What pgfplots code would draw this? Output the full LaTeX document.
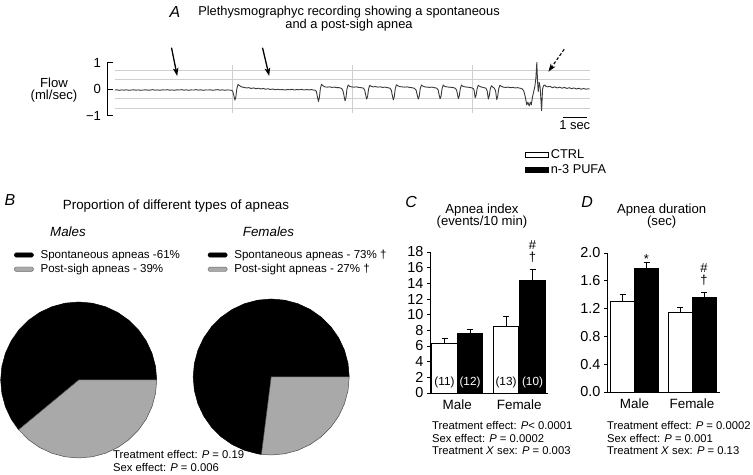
\documentclass[border=0pt]{standalone}
\usepackage{fontspec}
\setmainfont{Liberation Sans}
\usepackage{pgfplots}
\pgfplotsset{compat=1.18}
\usetikzlibrary{arrows.meta}
\definecolor{piegray}{HTML}{A9A9A9}
\definecolor{tracegray}{HTML}{3A3A3A}
\definecolor{gridgray}{HTML}{CFCFCF}
\newcommand{\fs}[2]{\fontsize{#1}{#2}\selectfont}
\pgfplotsset{
 baraxis/.style={scale only axis, anchor=south west, axis x line*=bottom, axis y line*=left,
   axis line style={line width=0.6bp}, tick align=outside, major tick length=3bp,
   ytick style={line width=0.6bp, black}, xtick style={draw=none}, clip=false,
   yticklabel style={font=\fs{14.5}{16}}, /pgf/number format/assume math mode=true,
   xticklabel style={font=\fs{13.5}{15}},
   legend image code/.code={\draw[##1] (0bp,-2.5bp) rectangle (23bp,2.5bp);}},
 errstyle/.style={error bars/y dir=plus, error bars/y explicit,
   error bars/error bar style={line width=0.6bp, black},
   error bars/error mark options={rotate=90, mark size=3bp, line width=0.6bp, black}},
 ctrlbar/.style={ybar, bar shift=0pt, fill=white, draw=black, line width=0.6bp, errstyle},
 pufabar/.style={ybar, bar shift=0pt, fill=black, draw=black, line width=0.6bp, errstyle},
 pieaxis/.style={scale only axis, anchor=south west, width=156bp, height=156bp,
   xmin=-1, xmax=1, ymin=-1, ymax=1, axis lines=none, clip=false,
   legend image code/.code={\draw[##1, rounded corners=1.5bp] (0bp,-2.2bp) rectangle (19bp,2.2bp);},
   legend style={draw=none, fill=none, inner sep=0pt, anchor=north west,
     font=\fs{11.6}{13}, row sep=0.5bp, cells={anchor=west},
     /tikz/every odd column/.append style={column sep=5bp}}}
}
\begin{document}
\begin{tikzpicture}[x=1bp,y=1bp]
\path[use as bounding box] (0,0) rectangle (753,475);

% ---------------- Panel A ----------------
\node[font=\fs{16}{18}\itshape] at (175,463) {A};
\node[font=\fs{12.9}{14}, inner sep=0pt] at (349,463) {Plethysmographyc recording showing a spontaneous};
\node[font=\fs{12.9}{14}, inner sep=0pt] at (349,449.5) {and a post-sigh apnea};
\node[font=\fs{13.2}{15}, inner sep=0pt] at (54,392) {Flow};
\node[font=\fs{13.2}{15}, inner sep=0pt] at (54,378.5) {(ml/sec)};

\begin{axis}[at={(112bp,359.5bp)}, anchor=south west, scale only axis, width=480bp, height=53bp,
  xmin=0, xmax=20, ymin=-1, ymax=1, axis lines=none, clip=false]
\addplot[gridgray, line width=0.7bp, forget plot] coordinates {(0.12,0.72) (19.9,0.72)};
\addplot[gridgray, line width=0.7bp, forget plot] coordinates {(0.12,0.36) (19.9,0.36)};
\addplot[gridgray, line width=0.7bp, forget plot] coordinates {(0.12,-0.36) (19.9,-0.36)};
\addplot[gridgray, line width=0.7bp, forget plot] coordinates {(0.12,-0.72) (19.9,-0.72)};
\addplot[gridgray, line width=0.7bp, forget plot] coordinates {(5,-0.92) (5,0.92)};
\addplot[gridgray, line width=0.7bp, forget plot] coordinates {(10,-0.92) (10,0.92)};
\addplot[gridgray, line width=0.7bp, forget plot] coordinates {(15,-0.92) (15,0.92)};
\addplot[tracegray, line width=0.9bp, line join=round] coordinates {
(0.12,-0.04) (0.2,-0.03) (0.3,-0.05) (0.4,-0.035) (0.5,-0.045) (0.6,-0.03) (0.7,-0.05) (0.8,-0.04) (0.9,-0.03) (1.0,-0.045)
(1.1,-0.035) (1.2,-0.05) (1.3,-0.04) (1.4,-0.03) (1.5,-0.045) (1.6,-0.04) (1.7,-0.025) (1.8,-0.045) (1.9,-0.035) (2.0,-0.05)
(2.1,-0.03) (2.2,-0.04) (2.3,-0.025) (2.4,-0.045) (2.5,-0.035) (2.6,-0.05) (2.7,-0.03) (2.8,-0.04) (2.9,-0.025) (3.0,-0.045)
(3.1,-0.03) (3.2,-0.05) (3.3,-0.035) (3.4,-0.04) (3.5,-0.025) (3.6,-0.045) (3.7,-0.03) (3.8,-0.05) (3.9,-0.035) (4.0,-0.04)
(4.1,-0.03) (4.2,-0.05) (4.3,-0.035) (4.4,-0.025) (4.5,-0.045) (4.6,-0.03) (4.7,-0.05) (4.8,-0.035) (4.9,-0.04) (4.97,-0.05)
(5.03,-0.08) (5.07,-0.22) (5.12,-0.42) (5.16,-0.3) (5.2,0.0) (5.25,0.17) (5.31,0.13) (5.39,0.08) (5.5,0.06) (5.6,0.04)
(5.7,0.05) (5.8,0.02) (5.9,0.04) (6.0,0.01) (6.1,0.03) (6.2,0.0) (6.3,0.02) (6.4,-0.01) (6.5,0.01) (6.6,-0.02)
(6.7,0.0) (6.8,-0.03) (6.9,-0.01) (7.0,-0.03) (7.1,-0.02) (7.2,-0.04) (7.3,-0.02) (7.4,-0.03) (7.5,-0.01) (7.6,-0.04)
(7.7,-0.02) (7.8,-0.03) (7.9,-0.015) (8.0,-0.04) (8.1,-0.02) (8.2,-0.035) (8.3,-0.02) (8.4,-0.04) (8.47,-0.05)
(8.51,-0.08) (8.55,-0.25) (8.6,-0.47) (8.64,-0.33) (8.68,0.0) (8.73,0.18) (8.79,0.12) (8.87,0.08) (8.97,0.07) (9.07,0.08)
(9.17,0.06) (9.27,0.07) (9.37,0.05) (9.47,0.05) (9.57,0.02) (9.62,-0.06)
(9.66,-0.22) (9.71,-0.45) (9.75,-0.32) (9.79,0.0) (9.84,0.15) (9.9,0.1) (9.98,0.08) (10.08,0.07) (10.18,0.08) (10.28,0.06)
(10.38,0.05) (10.48,0.03) (10.53,-0.05)
(10.56,-0.18) (10.61,-0.38) (10.65,-0.28) (10.69,0.0) (10.74,0.14) (10.8,0.1) (10.88,0.08) (10.98,0.09) (11.08,0.07) (11.18,0.08)
(11.28,0.06) (11.38,0.07) (11.48,0.05) (11.58,0.03) (11.64,-0.05)
(11.67,-0.2) (11.72,-0.41) (11.76,-0.3) (11.8,0.0) (11.85,0.16) (11.91,0.12) (11.99,0.09) (12.09,0.08) (12.19,0.07) (12.29,0.08)
(12.39,0.06) (12.49,0.05) (12.59,0.03) (12.67,-0.04)
(12.71,-0.2) (12.76,-0.38) (12.8,-0.28) (12.84,0.0) (12.89,0.15) (12.95,0.11) (13.03,0.08) (13.13,0.07) (13.23,0.06) (13.33,0.07)
(13.43,0.05) (13.53,0.03) (13.59,-0.04)
(13.62,-0.18) (13.67,-0.37) (13.71,-0.27) (13.75,0.0) (13.8,0.15) (13.86,0.1) (13.94,0.08) (14.04,0.07) (14.14,0.06) (14.24,0.05)
(14.31,0.02) (14.36,-0.05)
(14.39,-0.18) (14.43,-0.36) (14.47,-0.26) (14.51,0.0) (14.56,0.15) (14.62,0.1) (14.7,0.08) (14.8,0.07) (14.9,0.06) (15.0,0.04)
(15.06,0.01) (15.09,-0.06)
(15.13,-0.33) (15.17,-0.24) (15.21,0.0) (15.26,0.14) (15.32,0.1) (15.4,0.07) (15.5,0.05) (15.58,0.03) (15.63,-0.06)
(15.68,-0.38) (15.72,-0.25) (15.76,0.0) (15.81,0.12) (15.87,0.07) (15.93,0.03) (15.98,-0.06)
(16.03,-0.4) (16.07,-0.28) (16.11,0.0) (16.16,0.14) (16.22,0.1) (16.3,0.07) (16.4,0.06) (16.5,0.07) (16.6,0.05) (16.7,0.06)
(16.8,0.04) (16.9,0.05) (17.0,0.03) (17.1,0.0) (17.16,-0.08)
(17.22,-0.3) (17.28,-0.6) (17.33,-0.5) (17.38,-0.64) (17.43,-0.5) (17.47,-0.6) (17.52,-0.3) (17.57,-0.1) (17.62,0.1) (17.66,0.4)
(17.7,1.0) (17.73,0.3) (17.76,-0.1) (17.8,0.25) (17.84,0.05) (17.9,-0.82) (17.94,0.0) (17.98,0.12) (18.03,0.15) (18.08,0.1)
(18.15,0.08) (18.25,0.1) (18.35,0.05) (18.45,0.08) (18.55,0.04) (18.65,0.07) (18.75,0.03) (18.85,0.06) (18.95,0.02) (19.05,0.05)
(19.15,0.01) (19.25,0.04) (19.35,0.0) (19.45,0.03) (19.55,-0.01) (19.65,0.02) (19.75,-0.01) (19.85,0.01) (19.9,0.0)};
% y bracket
\draw[line width=0.9bp] (axis cs:0.05,1) -- (axis cs:-0.2,1) -- (axis cs:-0.2,-1) -- (axis cs:0.05,-1);
\draw[line width=0.9bp] (axis cs:-0.2,0) -- (axis cs:0.05,0);
\node[anchor=east, font=\fs{13.2}{15}, inner sep=0pt] at (axis cs:-0.45,1) {1};
\node[anchor=east, font=\fs{13.2}{15}, inner sep=0pt] at (axis cs:-0.45,0) {0};
\node[anchor=east, font=\fs{13.2}{15}, inner sep=0pt] at (axis cs:-0.45,-1) {−1};
% scale bar
\draw[line width=1.1bp] (axis cs:18.78,-1.06) -- (axis cs:19.78,-1.06);
\node[font=\fs{13}{14}] at (axis cs:19.28,-1.38) {1 sec};
\end{axis}
\draw[line width=1.3bp, -{Stealth[length=8bp,width=5.5bp,inset=2bp]}] (171.5,427.3) -- (177.2,399);
\draw[line width=1.3bp, -{Stealth[length=8bp,width=5.5bp,inset=2bp]}] (262.5,427.3) -- (269.2,399);
\draw[line width=1.1bp, dash pattern=on 3bp off 2bp, -{Stealth[length=8bp,width=5.5bp,inset=2bp]}] (564.2,425.7) -- (548.4,403.3);

% ---------------- Panel B ----------------
\node[font=\fs{16}{18}\itshape] at (10,275) {B};
\node[font=\fs{13.4}{15}] at (176,268.5) {Proportion of different types of apneas};
\node[font=\fs{13.4}{15}\itshape] at (68,243) {Males};
\node[font=\fs{13.4}{15}\itshape] at (268.5,243) {Females};

\begin{axis}[pieaxis, at={(0.7bp,17bp)}, legend style={at={(0.085,1.346)}}]
\addplot[fill=black, draw=black, line width=0.5bp, forget plot] coordinates {
(0,0) (1,0) (0.9848,0.1736) (0.9397,0.3420) (0.8660,0.5) (0.7660,0.6428) (0.6428,0.7660) (0.5,0.8660)
(0.3420,0.9397) (0.1736,0.9848) (0,1) (-0.1736,0.9848) (-0.3420,0.9397) (-0.5,0.8660) (-0.6428,0.7660)
(-0.7660,0.6428) (-0.8660,0.5) (-0.9397,0.3420) (-0.9848,0.1736) (-1,0) (-0.9848,-0.1736) (-0.9397,-0.3420)
(-0.8660,-0.5) (-0.7705,-0.6374) (0,0)};
\addplot[fill=piegray, draw=black!70, line width=0.5bp, forget plot] coordinates {
(0,0) (-0.7705,-0.6374) (-0.6428,-0.7660) (-0.5,-0.8660) (-0.3420,-0.9397) (-0.1736,-0.9848) (0,-1)
(0.1736,-0.9848) (0.3420,-0.9397) (0.5,-0.8660) (0.6428,-0.7660) (0.7660,-0.6428) (0.8660,-0.5)
(0.9397,-0.3420) (0.9848,-0.1736) (1,0) (0,0)};
\addlegendimage{fill=black, draw=black}
\addlegendentry{Spontaneous apneas -61\%}
\addlegendimage{fill=piegray, draw=black!60}
\addlegendentry{Post-sigh apneas - 39\%}
\end{axis}

\begin{axis}[pieaxis, at={(193.2bp,20bp)}, legend style={at={(0.093,1.328)}}]
\addplot[fill=black, draw=black, line width=0.5bp, forget plot] coordinates {
(0,0) (1,0) (0.9848,0.1736) (0.9397,0.3420) (0.8660,0.5) (0.7660,0.6428) (0.6428,0.7660) (0.5,0.8660)
(0.3420,0.9397) (0.1736,0.9848) (0,1) (-0.1736,0.9848) (-0.3420,0.9397) (-0.5,0.8660) (-0.6428,0.7660)
(-0.7660,0.6428) (-0.8660,0.5) (-0.9397,0.3420) (-0.9848,0.1736) (-1,0) (-0.9848,-0.1736) (-0.9397,-0.3420)
(-0.8660,-0.5) (-0.7660,-0.6428) (-0.6428,-0.7660) (-0.5,-0.8660) (-0.3420,-0.9397) (-0.1736,-0.9848)
(-0.1253,-0.9921) (0,0)};
\addplot[fill=piegray, draw=black!70, line width=0.5bp, forget plot] coordinates {
(0,0) (-0.1253,-0.9921) (0,-1) (0.1736,-0.9848) (0.3420,-0.9397) (0.5,-0.8660) (0.6428,-0.7660)
(0.7660,-0.6428) (0.8660,-0.5) (0.9397,-0.3420) (0.9848,-0.1736) (1,0) (0,0)};
\addlegendimage{fill=black, draw=black}
\addlegendentry{Spontaneous apneas - 73\% †}
\addlegendimage{fill=piegray, draw=black!60}
\addlegendentry{Post-sight apneas - 27\% †}
\end{axis}

\node[anchor=west, font=\fs{11.3}{13}, inner sep=0pt] at (113,21) {Treatment effect: \textit{P} = 0.19};
\node[anchor=west, font=\fs{11.3}{13}, inner sep=0pt] at (113,7.7) {Sex effect: \textit{P} = 0.006};

% ---------------- Panel C ----------------
\node[font=\fs{16}{18}\itshape] at (411,273) {C};
\node[font=\fs{13.2}{15}, inner sep=0pt] at (482,265) {Apnea index};
\node[font=\fs{13.2}{15}, inner sep=0pt] at (482,252.5) {(events/10 min)};

\begin{axis}[baraxis, at={(430bp,82bp)}, width=118bp, height=141bp,
  xmin=0, xmax=118, ymin=0, ymax=18, ytick={0,2,...,18},
  xtick={27.25,89.25}, xticklabels={Male,Female},
  legend style={at={(0.805,1.74)}, anchor=north west, draw=none, fill=none, inner sep=0pt,
    font=\fs{12.8}{14}, row sep=0bp, cells={anchor=west}}]
\addplot[forget plot, ctrlbar, bar width=25.5] coordinates {(14.5,6.35) +- (0,0.64) (76,8.47) +- (0,1.36)};
\addplot[forget plot, pufabar, bar width=25.5] coordinates {(40,7.62) +- (0,0.52) (102.5,14.4) +- (0,1.4)};
\addlegendimage{draw=black, fill=white, line width=0.6bp}
\addlegendentry{CTRL}
\addlegendimage{draw=black, fill=black, line width=0.6bp}
\addlegendentry{n-3 PUFA}
\node[font=\fs{11.8}{13}, inner sep=0pt] at (axis cs:14.5,1.3) {(11)};
\node[font=\fs{11.8}{13}, inner sep=0pt, text=white] at (axis cs:40,1.3) {(12)};
\node[font=\fs{11.8}{13}, inner sep=0pt] at (axis cs:76,1.3) {(13)};
\node[font=\fs{11.8}{13}, inner sep=0pt, text=white] at (axis cs:102.5,1.3) {(10)};
\node[font=\fs{13}{14}, inner sep=0pt] at (axis cs:102.5,17.3) {†};
\node[font=\fs{13}{14}, inner sep=0pt] at (axis cs:102.5,18.9) {\#};
\end{axis}
\node[anchor=west, font=\fs{11.3}{13}, inner sep=0pt] at (432,50) {Treatment effect: \textit{P}< 0.0001};
\node[anchor=west, font=\fs{11.3}{13}, inner sep=0pt] at (432,37) {Sex effect: \textit{P} = 0.0002};
\node[anchor=west, font=\fs{11.3}{13}, inner sep=0pt] at (432,24) {Treatment \textit{X} sex: \textit{P} = 0.003};

% ---------------- Panel D ----------------
\node[font=\fs{16}{18}\itshape] at (587,273) {D};
\node[font=\fs{13.2}{15}, inner sep=0pt] at (661.7,265) {Apnea duration};
\node[font=\fs{13.2}{15}, inner sep=0pt] at (661.7,252.5) {(sec)};

\begin{axis}[baraxis, at={(607bp,83bp)}, width=113bp, height=139bp,
  xmin=0, xmax=113, ymin=0, ymax=2, ytick={0,0.4,...,2.0},
  yticklabel style={/pgf/number format/.cd, fixed, fixed zerofill, precision=1},
  xtick={27.5,85}, xticklabels={Male,Female}]
\addplot[ctrlbar, bar width=24] coordinates {(15.5,1.31) +- (0,0.1) (73,1.15) +- (0,0.075)};
\addplot[pufabar, bar width=24] coordinates {(39.5,1.78) +- (0,0.09) (97,1.36) +- (0,0.07)};
\node[font=\fs{13}{14}, inner sep=0pt] at (axis cs:39.5,1.92) {*};
\node[font=\fs{13}{14}, inner sep=0pt] at (axis cs:97,1.61) {†};
\node[font=\fs{13}{14}, inner sep=0pt] at (axis cs:97,1.78) {\#};
\end{axis}
\node[anchor=west, font=\fs{11.3}{13}, inner sep=0pt] at (607,50) {Treatment effect: \textit{P} = 0.0002};
\node[anchor=west, font=\fs{11.3}{13}, inner sep=0pt] at (607,37) {Sex effect: \textit{P} = 0.001};
\node[anchor=west, font=\fs{11.3}{13}, inner sep=0pt] at (607,24) {Treatment \textit{X} sex: \textit{P} = 0.13};
\end{tikzpicture}
\end{document}
